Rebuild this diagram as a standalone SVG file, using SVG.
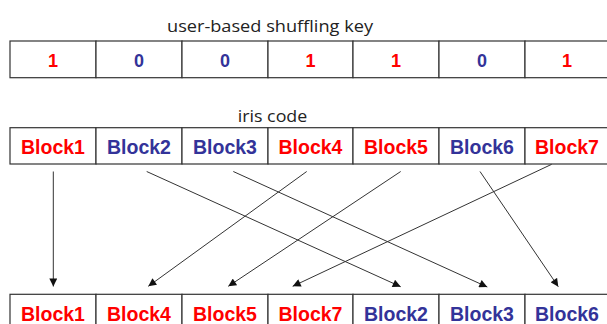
<svg xmlns="http://www.w3.org/2000/svg" width="607" height="324" viewBox="0 0 607 324">
  <style>
    .cell { fill: #ffffff; stroke: #333333; stroke-width: 1.2; }
    .bit { font-family: "Liberation Sans", Arial, sans-serif; font-weight: bold; font-size: 18px; text-anchor: middle; }
    .blk { font-family: "Liberation Sans", Arial, sans-serif; font-weight: bold; font-size: 19.5px; text-anchor: middle; }
    .red { fill: #ff0000; }
    .blue { fill: #333399; }
    .caption { font-family: "Open Sans", "Noto Sans", sans-serif; font-size: 16.5px; fill: #222222; }
    .link { stroke: #333333; stroke-width: 1; fill: none; marker-end: url(#head); }
  </style>
  <defs>
    <marker id="head" viewBox="0 0 10 10" refX="10" refY="5" markerWidth="9" markerHeight="8" markerUnits="userSpaceOnUse" orient="auto">
      <path d="M0,0 L10,5 L0,10 z" fill="#111111"/>
    </marker>
  </defs>
  <rect width="607" height="324" fill="#ffffff"/>

  <!-- key row -->
  <text class="caption" x="167" y="32" textLength="206" lengthAdjust="spacingAndGlyphs">user-based shuffling key</text>
  <g id="key1"><rect class="cell" x="10" y="41" width="86" height="36.7"/><text class="bit red" x="53" y="66.5">1</text></g>
  <g id="key2"><rect class="cell" x="96" y="41" width="86" height="36.7"/><text class="bit blue" x="139" y="66.5">0</text></g>
  <g id="key3"><rect class="cell" x="182" y="41" width="86" height="36.7"/><text class="bit blue" x="225" y="66.5">0</text></g>
  <g id="key4"><rect class="cell" x="268" y="41" width="85" height="36.7"/><text class="bit red" x="310.5" y="66.5">1</text></g>
  <g id="key5"><rect class="cell" x="353" y="41" width="86" height="36.7"/><text class="bit red" x="396" y="66.5">1</text></g>
  <g id="key6"><rect class="cell" x="439" y="41" width="86" height="36.7"/><text class="bit blue" x="482" y="66.5">0</text></g>
  <g id="key7"><rect class="cell" x="525" y="41" width="86" height="36.7"/><text class="bit red" x="567" y="66.5">1</text></g>

  <!-- iris code row -->
  <text class="caption" x="237.7" y="121.5" textLength="69.6" lengthAdjust="spacingAndGlyphs">iris code</text>
  <g id="iris1"><rect class="cell" x="10" y="127.7" width="86" height="36.3"/><text class="blk red" x="53" y="154">Block1</text></g>
  <g id="iris2"><rect class="cell" x="96" y="127.7" width="86" height="36.3"/><text class="blk blue" x="139" y="154">Block2</text></g>
  <g id="iris3"><rect class="cell" x="182" y="127.7" width="86" height="36.3"/><text class="blk blue" x="225" y="154">Block3</text></g>
  <g id="iris4"><rect class="cell" x="268" y="127.7" width="85" height="36.3"/><text class="blk red" x="310.5" y="154">Block4</text></g>
  <g id="iris5"><rect class="cell" x="353" y="127.7" width="86" height="36.3"/><text class="blk red" x="396" y="154">Block5</text></g>
  <g id="iris6"><rect class="cell" x="439" y="127.7" width="86" height="36.3"/><text class="blk blue" x="482" y="154">Block6</text></g>
  <g id="iris7"><rect class="cell" x="525" y="127.7" width="86" height="36.3"/><text class="blk red" x="567" y="154">Block7</text></g>

  <!-- shuffled row -->
  <g id="out1"><rect class="cell" x="10" y="294.3" width="86" height="36.3"/><text class="blk red" x="53" y="320.5">Block1</text></g>
  <g id="out2"><rect class="cell" x="96" y="294.3" width="86" height="36.3"/><text class="blk red" x="139" y="320.5">Block4</text></g>
  <g id="out3"><rect class="cell" x="182" y="294.3" width="86" height="36.3"/><text class="blk red" x="225" y="320.5">Block5</text></g>
  <g id="out4"><rect class="cell" x="268" y="294.3" width="85" height="36.3"/><text class="blk red" x="310.5" y="320.5">Block7</text></g>
  <g id="out5"><rect class="cell" x="353" y="294.3" width="86" height="36.3"/><text class="blk blue" x="396" y="320.5">Block2</text></g>
  <g id="out6"><rect class="cell" x="439" y="294.3" width="86" height="36.3"/><text class="blk blue" x="482" y="320.5">Block3</text></g>
  <g id="out7"><rect class="cell" x="525" y="294.3" width="86" height="36.3"/><text class="blk blue" x="567" y="320.5">Block6</text></g>

  <!-- permutation connectors -->
  <g id="connectors">
    <line class="link" x1="53.3" y1="171.5" x2="53.3" y2="286.5"/>
    <line class="link" x1="146.7" y1="171.5" x2="400.7" y2="286.7"/>
    <line class="link" x1="233.3" y1="171.5" x2="487.3" y2="287"/>
    <line class="link" x1="306.7" y1="171.5" x2="148.3" y2="286.3"/>
    <line class="link" x1="400.7" y1="171.5" x2="228.3" y2="286.3"/>
    <line class="link" x1="480" y1="171.5" x2="558.3" y2="286.7"/>
    <line class="link" x1="551.7" y1="164.3" x2="292.7" y2="286.3"/>
  </g>
</svg>
